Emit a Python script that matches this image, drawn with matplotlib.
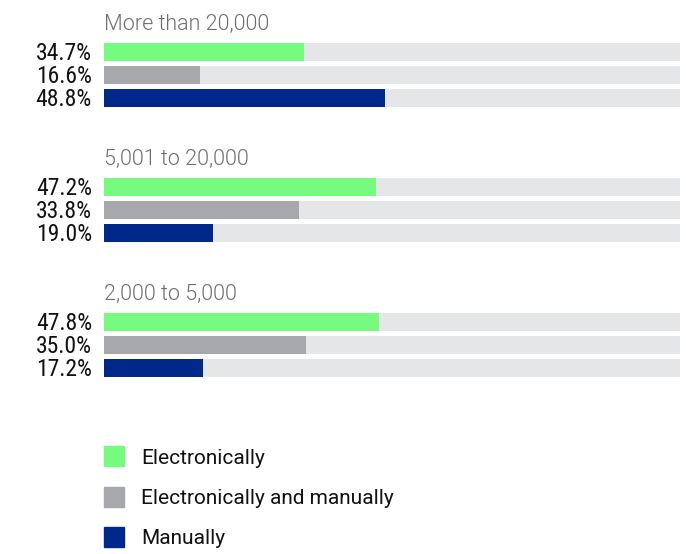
import matplotlib.pyplot as plt
from matplotlib.patches import Rectangle

groups = ["More than 20,000", "5,001 to 20,000", "2,000 to 5,000"]
series = ["Electronically", "Electronically and manually", "Manually"]
electronic = [34.7, 47.2, 47.8]
both = [16.6, 33.8, 35.0]
manual = [48.8, 19.0, 17.2]

colors = ["#76fb80", "#a7a8ab", "#00288a"]
track = "#e5e6e8"

W, H = 686, 554
fig = plt.figure(figsize=(W / 100, H / 100), dpi=100)
# bar area: x in percent, y in pixel rows from the top
ax = fig.add_axes([104 / W, 0, 576 / W, 1])
ax.set_xlim(0, 100)
ax.set_ylim(H, 0)
ax.axis("off")

values = [electronic, both, manual]
for g, name in enumerate(groups):
    top = 51.8 + 135 * g
    ax.text(0, top - 22, name, ha="left", va="baseline", fontsize=15.5,
            family="Roboto", fontweight=300, color="#6e6e6e")
    for s in range(len(series)):
        y = top + 23 * s
        ax.barh(y, 100, height=18, color=track)
        ax.barh(y, values[s][g], height=18, color=colors[s])
        ax.text(-2.1, y + 8, f"{values[s][g]:.1f}%", ha="right", va="baseline",
                fontsize=17, family="Roboto Condensed", color="#111111",
                clip_on=False)

# legend drawn in figure pixels
for i, name in enumerate(series):
    cy = H - (456 + 40.5 * i)
    fig.add_artist(Rectangle((104, cy - 10), 20, 20, transform=None,
                             color=colors[i]))
    fig.text(141 / W, (cy - 7.5) / H, name, ha="left", va="baseline",
             fontsize=15, family="Roboto", color="#111111")

fig.savefig("out.png", dpi=100)
